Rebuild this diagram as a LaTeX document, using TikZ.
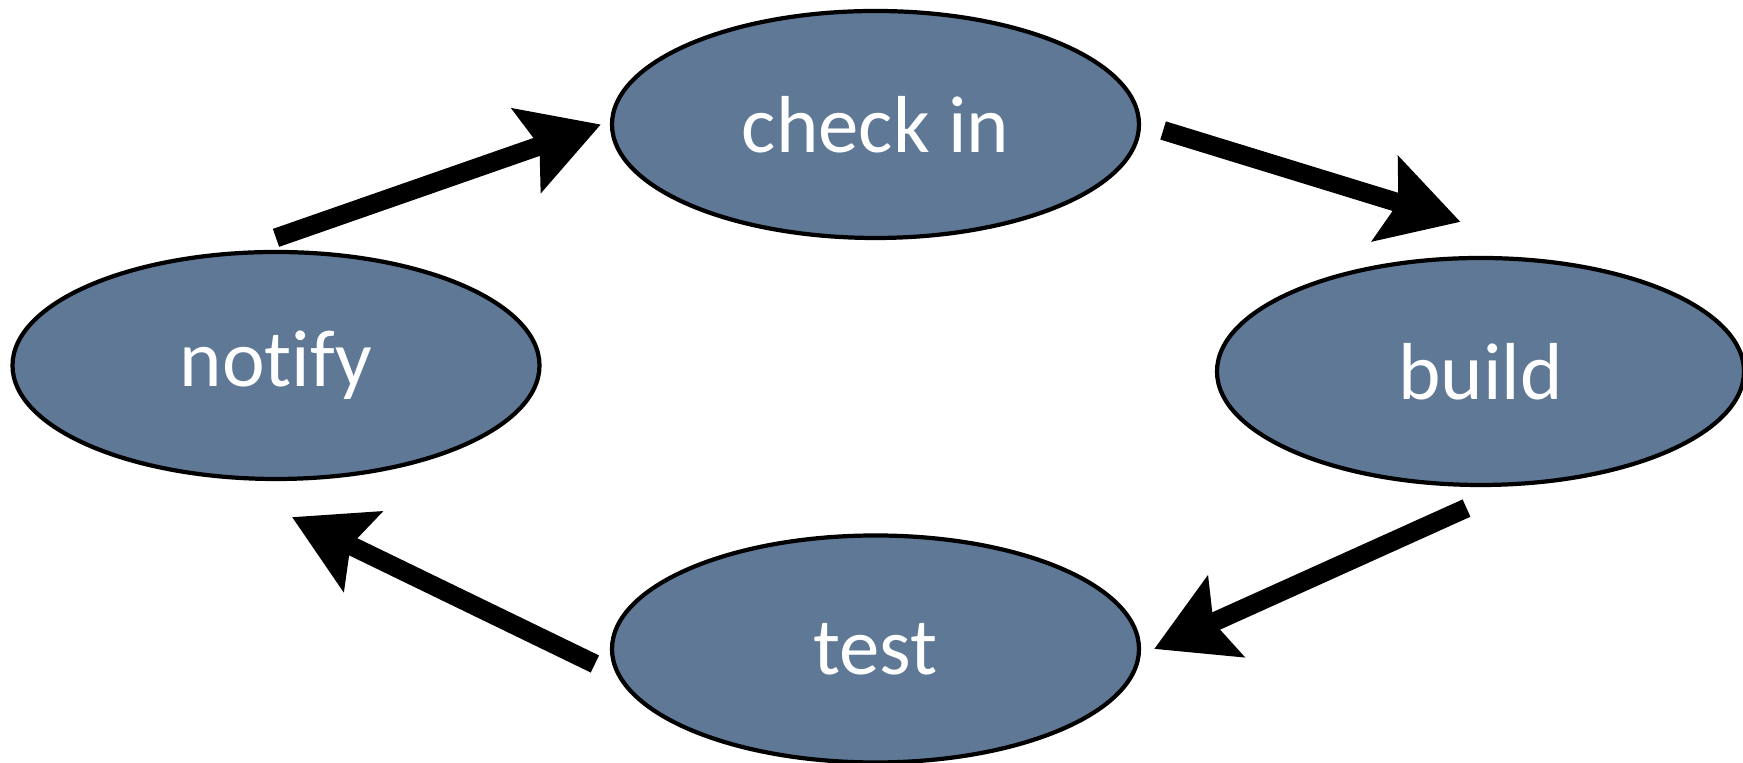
\documentclass[tikz,border=0pt]{standalone}
\usepackage{fontspec}
\setmainfont{Carlito}[Ligatures=NoCommon]
\usepackage{tikz}
\usetikzlibrary{shapes,arrows.meta,positioning,calc}

\definecolor{stageblue}{RGB}{94,120,150}

\begin{document}
\begin{tikzpicture}[
        font=\fontsize{23}{27}\selectfont,
        % Block styles
        stage/.style={
            ellipse,
            draw=black,
            line width=1.2pt,
            minimum width=5.27cm,
            minimum height=2.27cm,
            text=white,
            fill=#1
        },
        flow/.style={
            -{Stealth[length=0.78cm, width=0.87cm, inset=0.13cm]},
            line width=0.19cm
        }
    ]
    \useasboundingbox (0,0) rectangle (17.43,7.63);

    % Cycle
    \node[stage=stageblue] (checkin) at (8.755, 6.385) {check in};
    \node[stage=stageblue] (build) at (14.805, 3.915) {build};
    \node[stage=stageblue] (test) at (8.755, 1.14) {test};
    \node[stage=stageblue] (notify) at (2.76, 3.975) {notify};

    % Connections
    \draw[flow] ([yshift=1.2mm]notify.north) -- ([xshift=-0.9mm]checkin.west);
    \draw[flow] ([xshift=2.2mm,yshift=-0.6mm]checkin.east) -- ([xshift=-2mm,yshift=3.4mm]build.north);
    \draw[flow] ([xshift=-1.4mm,yshift=-2.1mm]build.south) -- ([xshift=1.3mm]test.east);
    \draw[flow] ([xshift=-1.5mm,yshift=-1.5mm]test.west) -- ([xshift=1.6mm,yshift=-3.6mm]notify.south);

\end{tikzpicture}
\end{document}
